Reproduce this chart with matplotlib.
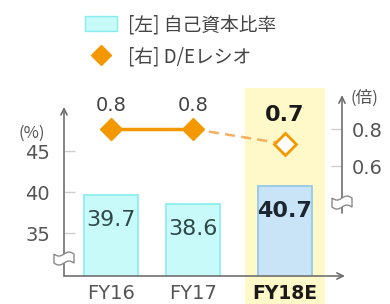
import matplotlib
matplotlib.use("Agg")
import matplotlib.pyplot as plt
import matplotlib.transforms as mtransforms
import numpy as np
from matplotlib.lines import Line2D
from matplotlib.patches import Patch, PathPatch, Rectangle
from matplotlib.path import Path

# ── データ ───────────────────────────────────────────────
categories = ["FY16", "FY17", "FY18E"]
equity_ratio = [39.7, 38.6, 40.7]        # [左] 自己資本比率 (%)
de_ratio = [0.80, 0.80, 0.72]            # [右] D/Eレシオ (倍)
de_labels = ["0.8", "0.8", "0.7"]
left_ticks = [35, 40, 45]
right_ticks = [0.6, 0.8]
legend_labels = ["[左] 自己資本比率", "[右] D/Eレシオ"]

JP = ["Noto Sans CJK JP", "DejaVu Sans"]
GRAY = "#555555"
AXIS = "#707070"
ORANGE = "#f39800"
CYAN_FILL, CYAN_EDGE = "#c9fafa", "#86eeee"
BLUE_FILL, BLUE_EDGE = "#c8e4f6", "#8cc6ea"

xpos = np.array([0, 1, 2.12])
bar_w = 0.66

fig = plt.figure(figsize=(3.9, 3.04), dpi=100)
ax = fig.add_axes([64 / 390, 28 / 304, 278 / 390, 188 / 304])
ax.set_xlim(-0.579, 2.823)
ax.set_ylim(29.76, 52.7)
ax2 = ax.twinx()
ax2.set_ylim(0.005, 1.022)

for a in (ax, ax2):
    for s in a.spines.values():
        s.set_visible(False)

# FY18E のハイライト
hl = Rectangle((xpos[2] - 0.49, -0.2), 0.98, 1.2,
               transform=mtransforms.blended_transform_factory(ax.transData, ax.transAxes),
               facecolor="#fff8c8", edgecolor="none", zorder=0, clip_on=False)
ax.add_patch(hl)

# 棒グラフ
ax.bar(xpos, equity_ratio, width=bar_w,
       color=[CYAN_FILL, CYAN_FILL, BLUE_FILL],
       edgecolor=[CYAN_EDGE, CYAN_EDGE, BLUE_EDGE], linewidth=1.2, zorder=2)
for i, (x, v) in enumerate(zip(xpos, equity_ratio)):
    last = i == len(xpos) - 1
    ax.annotate(f"{v}", (x, v), xytext=(0, -18), textcoords="offset points",
                ha="center", va="center", fontsize=16,
                fontweight="bold" if last else "normal",
                color="#1c2630" if last else "#2f4747", zorder=5)

# 折れ線 (D/E)
ax2.plot(xpos[:2], de_ratio[:2], color=ORANGE, lw=2.5, zorder=3)
ax2.plot(xpos[1:], de_ratio[1:], color="#f5b060", lw=1.8, ls=(0, (4, 2.5)), zorder=3)
ax2.plot(xpos[:2], de_ratio[:2], "D", ms=11, color=ORANGE, zorder=4)
ax2.plot(xpos[2:], de_ratio[2:], "D", ms=11, mfc="white", mec=ORANGE, mew=2, zorder=4)
for i, (x, v, s) in enumerate(zip(xpos, de_ratio, de_labels)):
    last = i == len(xpos) - 1
    ax2.annotate(s, (x, v), xytext=(0, 21 if last else 17), textcoords="offset points",
                 ha="center", va="center", fontsize=16 if last else 14,
                 fontweight="bold" if last else "normal",
                 color="#1a1a1a" if last else "#444444")

# 軸線 (矢印)
arrow = dict(arrowstyle="->,head_length=0.45,head_width=0.22", color=AXIS, lw=1.2,
             shrinkA=0, shrinkB=0)
x0, x1 = ax.get_xlim()
y0 = ax.get_ylim()[0]
ax.annotate("", xy=(x0, 50.4), xytext=(x0, y0), arrowprops=arrow, annotation_clip=False)
ax.annotate("", xy=(2.86, y0), xytext=(x0, y0), arrowprops=arrow, annotation_clip=False)
ax2.annotate("", xy=(x1, 0.984), xytext=(x1, 0.346), arrowprops=arrow, annotation_clip=False)

# 省略記号
xs = np.linspace(-10, 10, 25)
wave = 2.0 * np.sin(np.pi * xs / 10)
top = np.column_stack([xs, 4 + wave])
bot = np.column_stack([xs[::-1], -5 + wave[::-1]])
verts = np.vstack([top, bot, top[:1]])
brk = Path(verts)


def add_break(a, x, y):
    tr = mtransforms.ScaledTranslation(x, y, a.transData)
    a.add_patch(PathPatch(brk, transform=tr, facecolor="white", edgecolor="#8a8a8a",
                          lw=1.0, zorder=6, clip_on=False))


add_break(ax, x0, 31.95)
add_break(ax2, x1, 0.405)

# 目盛
ax.set_yticks(left_ticks)
ax.tick_params(axis="y", direction="in", length=8, width=1, color="#cfcfcf",
               labelsize=14, labelcolor=GRAY, pad=10)
ax2.set_yticks(right_ticks, [f"{t:.1f}" for t in right_ticks])
ax2.tick_params(axis="y", direction="in", length=8, width=1, color="#cfcfcf",
                labelsize=14, labelcolor=GRAY, pad=7)
ax.set_xticks(xpos, categories)
ax.tick_params(axis="x", length=0, labelsize=14, labelcolor=GRAY, pad=6)
lab = ax.get_xticklabels()[-1]
lab.set_fontweight("bold")
lab.set_fontsize(13.5)
lab.set_color("#1a1a1a")

fig.text(18 / 390, 1 - 133 / 304, "(%)", fontsize=12, color=GRAY, va="center", ha="left",
         family=JP)
fig.text(350 / 390, 1 - 98 / 304, "(倍)", fontsize=12, color=GRAY, va="center", ha="left",
         family=JP)

# 凡例
handles = [Patch(facecolor=CYAN_FILL, edgecolor=CYAN_EDGE),
           Line2D([], [], ls="none", marker="D", ms=10, color=ORANGE)]
leg = fig.legend(handles, legend_labels, loc="upper left",
                 bbox_to_anchor=(85 / 390, 1 - 14 / 304), frameon=False,
                 prop={"family": JP, "size": 13.5}, handlelength=1.7, handleheight=0.8,
                 handletextpad=0.6, labelspacing=0.6, borderpad=0, borderaxespad=0)
for t in leg.get_texts():
    t.set_color("#444444")

fig.savefig("out.png", dpi=100)
